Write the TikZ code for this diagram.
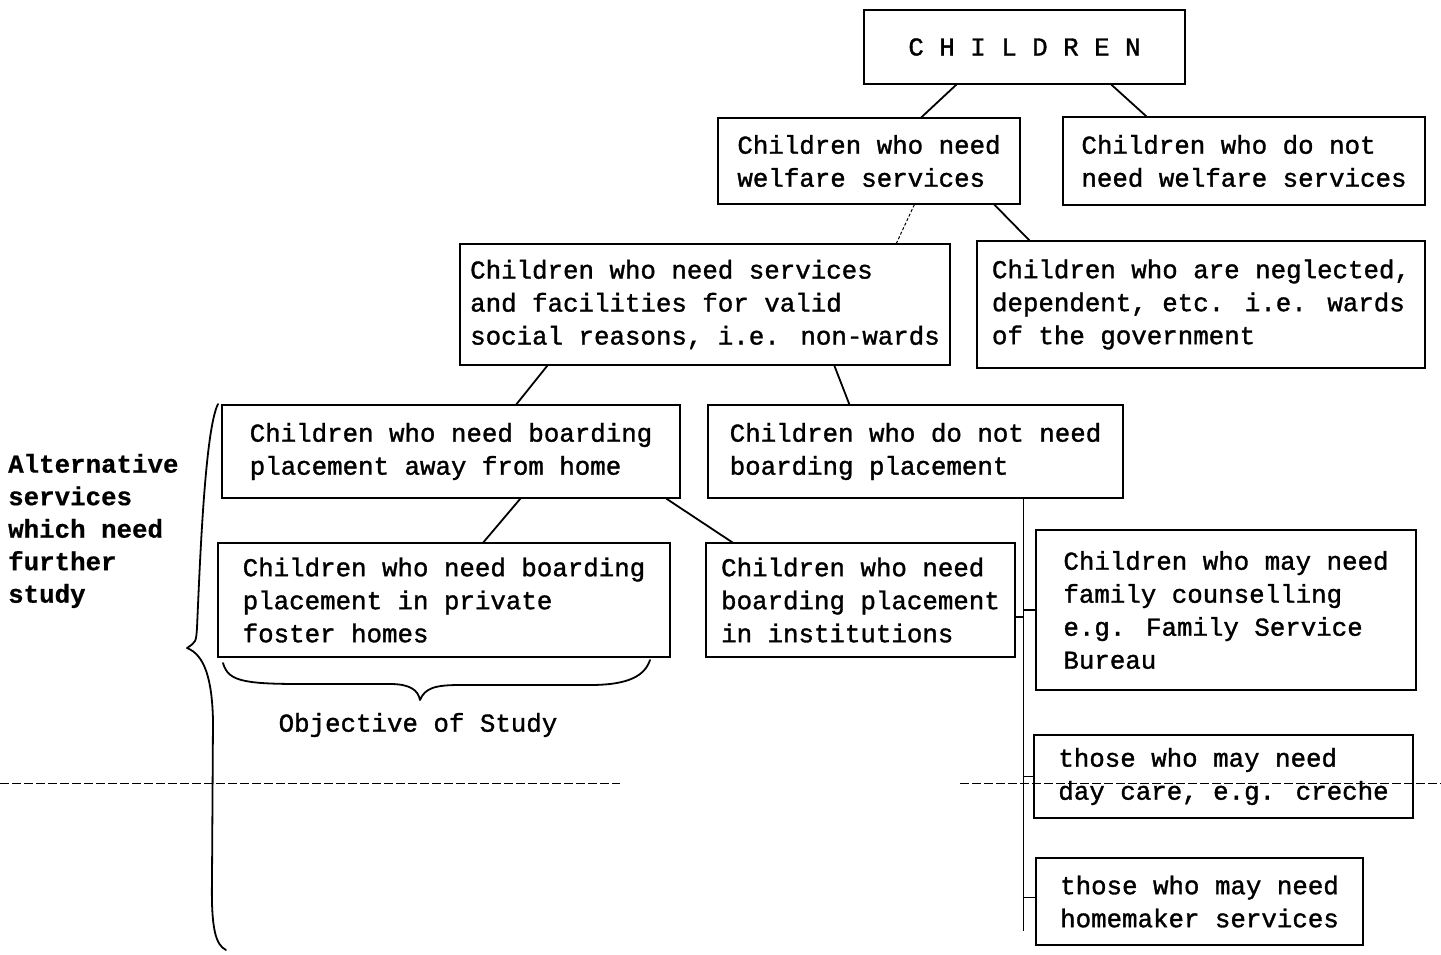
\documentclass[tikz,border=0pt]{standalone}
\usepackage{fontspec}
\setmainfont{Liberation Mono}
\newfontfamily\typew{Liberation Mono}[FakeBold=1.3]
\newfontfamily\typewb{Liberation Mono Bold}[FakeBold=0.6]
\begin{document}
\begin{tikzpicture}[x=1pt,y=-1pt,
  tw/.style={font=\typew\fontsize{25.8}{33}\selectfont},
  box/.style={draw, line width=1.3pt, align=left, inner sep=0pt, tw},
  link/.style={line width=1.8pt},
  faint/.style={line width=1pt, dash pattern=on 3pt off 2pt},
  guide/.style={line width=1pt, dash pattern=on 9pt off 3pt},
  brace/.style={line width=1.8pt, line cap=round, line join=round},
  tick/.style={line width=1.3pt},
]
\useasboundingbox (0,0) rectangle (1441,954);

% boxes
\node[box, minimum width=321pt, minimum height=74pt] (children) at (1024.5,47) {C H I L D R E N};
\node[box, minimum width=302pt, minimum height=86pt] (need) at (869,161) {Children who need\\welfare services};
\node[box, minimum width=362pt, minimum height=88pt] (notneed) at (1244,161) {Children who do not\\need welfare services};
\node[box, minimum width=490pt, minimum height=121pt] (nonwards) at (705,304.5) {Children who need services\\and facilities for valid\\social reasons, i.e. non-wards};
\node[box, minimum width=448pt, minimum height=127pt] (wards) at (1201,304.5) {Children who are neglected,\\dependent, etc. i.e. wards\\of the government};
\node[box, minimum width=458pt, minimum height=93pt] (boarding) at (451,451.5) {Children who need boarding\\placement away from home};
\node[box, minimum width=415pt, minimum height=93pt] (noboarding) at (915.5,451.5) {Children who do not need\\boarding placement};
\node[box, minimum width=452pt, minimum height=114pt] (foster) at (444,600) {Children who need boarding\\placement in private\\foster homes};
\node[box, minimum width=309pt, minimum height=114pt] (inst) at (860.5,600) {Children who need\\boarding placement\\in institutions};
\node[box, minimum width=380pt, minimum height=160pt] (counsel) at (1226,610) {Children who may need\\family counselling\\e.g. Family Service\\Bureau};
\node[box, minimum width=379pt, minimum height=83pt] (daycare) at (1223.5,776.5) {those who may need\\day care, e.g. creche};
\node[box, minimum width=327pt, minimum height=87pt] (homemaker) at (1199.5,901.5) {those who may need\\homemaker services};

% side texts
\node[font=\typewb\fontsize{25.8}{32.5}\selectfont, align=left, anchor=west, inner sep=0pt] (alt) at (8,531) {Alternative\\services\\which need\\further\\study};
\node[tw, inner sep=0pt] (objective) at (418,725) {Objective of Study};

% connectors
\draw[link] ([xshift=93pt]children.south west) -- ([xshift=204pt]need.north west);
\draw[link] ([xshift=248pt]children.south west) -- ([xshift=84pt]notneed.north west);
\draw[faint] ([xshift=197pt]need.south west) -- ([xshift=437pt]nonwards.north west);
\draw[link] ([xshift=277pt]need.south west) -- ([xshift=53pt]wards.north west);
\draw[link] ([xshift=88pt]nonwards.south west) -- ([xshift=295pt]boarding.north west);
\draw[link] ([xshift=375pt]nonwards.south west) -- ([xshift=142pt]noboarding.north west);
\draw[link] ([xshift=299pt]boarding.south west) -- ([xshift=266pt]foster.north west);
\draw[link] ([xshift=445pt]boarding.south west) -- ([xshift=27pt]inst.north west);

% trunk from "do not need boarding placement"
\coordinate (trunktop) at ([xshift=316pt]noboarding.south west);
\coordinate (trunkend) at ([yshift=15pt]trunktop |- homemaker.south);
\draw[tick] (trunktop) -- (trunkend);
\draw[tick] (counsel.west) -- (counsel.west -| trunktop);
\draw[tick] (daycare.west) -- (daycare.west -| trunktop);
\draw[tick] ([yshift=4pt]homemaker.west) -- ([yshift=4pt]homemaker.west -| trunktop);
\draw[tick] ([yshift=-17pt]inst.east) -- ([yshift=-17pt]inst.east -| trunktop);

% horizontal guide line
\coordinate (gl1) at (0,783);
\coordinate (gl2) at (620,783);
\coordinate (gr1) at (960,783);
\coordinate (gr2) at (1441,783);
\draw[guide] (gl1) -- (gl2);
\draw[guide] (gr1) -- (gr2);

% left brace
\draw[brace] (218,404) .. controls (205,430) and (200,560) .. (197,628)
  .. controls (196,642) .. (187,648)
  .. controls (205,655) and (212,680) .. (213,720)
  -- (212,880) .. controls (211,930) and (216,945) .. (226,950);

% bottom brace
\draw[brace] (223,663) .. controls (228,680) and (240,684) .. (300,684)
  -- (390,684) .. controls (410,684) and (418,690) .. (420,700)
  .. controls (425,688) and (435,685) .. (460,685)
  -- (590,685) .. controls (630,685) and (645,675) .. (650,660);
\end{tikzpicture}
\end{document}
